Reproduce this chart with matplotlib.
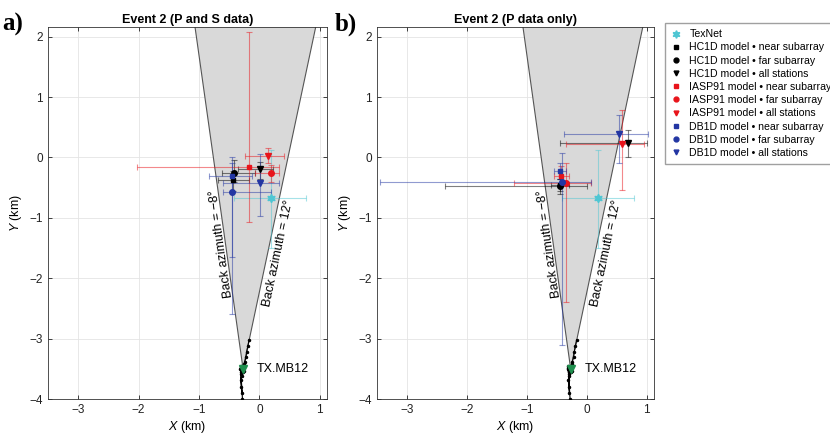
import numpy as np
import matplotlib.pyplot as plt
from matplotlib.lines import Line2D

plt.rcParams['font.family'] = ['Liberation Sans', 'DejaVu Sans']
plt.rcParams['mathtext.fontset'] = 'custom'
plt.rcParams['mathtext.it'] = 'Liberation Sans:italic'
plt.rcParams['mathtext.rm'] = 'Liberation Sans'

# order: TexNet, HC1D near/far/all, IASP91 near/far/all, DB1D near/far/all
labels = ['TexNet',
          'HC1D model \u2022 near subarray', 'HC1D model \u2022 far subarray', 'HC1D model \u2022 all stations',
          'IASP91 model \u2022 near subarray', 'IASP91 model \u2022 far subarray', 'IASP91 model \u2022 all stations',
          'DB1D model \u2022 near subarray', 'DB1D model \u2022 far subarray', 'DB1D model \u2022 all stations']

# event 2, P and S data
x_a = [0.19, -0.43, -0.42, 0.01, -0.17, 0.20, 0.14, -0.46, -0.46, 0.01]
y_a = [-0.67, -0.38, -0.25, -0.19, -0.16, -0.26, 0.02, -0.30, -0.57, -0.42]
xlo_a = [-0.42, -0.68, -0.62, -0.36, -2.03, -0.08, -0.24, -0.84, -0.61, -0.60]
xhi_a = [0.78, -0.17, -0.08, 0.22, 0.33, 0.32, 0.40, -0.12, 0.20, 0.33]
ylo_a = [-1.50, -0.55, -0.40, -0.35, -1.07, -0.40, -0.10, -1.65, -2.60, -0.97]
yhi_a = [0.13, -0.22, -0.05, -0.07, 2.08, -0.12, 0.16, 0.00, -0.10, 0.05]

# event 2, P data only
x_b = [0.19, -0.44, -0.44, 0.68, -0.43, -0.34, 0.58, -0.45, -0.42, 0.53]
y_b = [-0.67, -0.45, -0.47, 0.24, -0.31, -0.42, 0.22, -0.22, -0.41, 0.38]
xlo_b = [-0.42, -0.60, -2.37, -0.44, -0.55, -1.21, -0.35, -0.55, -3.45, -0.38]
xhi_b = [0.78, -0.30, 0.00, 1.00, -0.30, 0.07, 0.95, -0.35, 0.07, 1.02]
ylo_b = [-1.50, -0.55, -0.60, 0.00, -0.45, -2.40, -0.54, -0.35, -3.10, -0.10]
yhi_b = [0.13, -0.35, -0.35, 0.45, -0.15, -0.10, 0.79, -0.10, 0.07, 0.70]

# TX.MB12 array elements
sta_x = [-0.17, -0.19, -0.21, -0.22, -0.24, -0.25, -0.26, -0.27, -0.28, -0.29, -0.30,
         -0.31, -0.32, -0.30, -0.27, -0.25, -0.29, -0.31, -0.30, -0.29, -0.31, -0.28]
sta_y = [-3.02, -3.12, -3.22, -3.30, -3.38, -3.42, -3.45, -3.48, -3.50, -3.52, -3.55,
         -3.46, -3.50, -3.58, -3.56, -3.53, -3.62, -3.68, -3.80, -3.90, -3.48, -4.00]
station = (-0.27, -3.50)
back_az = [-8, 12]

colors = ['#4fc6d3', 'k', 'k', 'k', '#e8141b', '#e8141b', '#e8141b', '#2336a3', '#2336a3', '#2336a3']
markers = [(6, 1, 0), 's', 'o', 'v', 's', 'o', 'v', 's', 'o', 'v']
msizes = [6, 3.2, 4, 4, 3.2, 4, 4, 3.2, 4, 4]


def draw_panel(ax, x, y, xlo, xhi, ylo, yhi, title):
    # back-azimuth wedge from the station
    top = 2.6
    dy = top - station[1]
    xl = station[0] + dy * np.tan(np.radians(back_az[0]))
    xr = station[0] + dy * np.tan(np.radians(back_az[1]))
    ax.fill([station[0], xl, xr], [station[1], top, top], color='#d9d9d9',
            ec='#555555', lw=0.8, zorder=1)

    yl, yr = -1.42, -1.57
    ax.text(station[0] + (yl - station[1]) * np.tan(np.radians(back_az[0])) + 0.03, yl,
            'Back azimuth = \u22128\u00b0', rotation=90 - back_az[0], rotation_mode='anchor',
            ha='center', va='bottom', fontsize=9, zorder=3)
    ax.text(station[0] + (yr - station[1]) * np.tan(np.radians(back_az[1])) + 0.08, yr,
            'Back azimuth = 12\u00b0', rotation=90 - back_az[1], rotation_mode='anchor',
            ha='center', va='top', fontsize=9, zorder=3)

    for i in range(len(x)):
        xe = [[x[i] - xlo[i]], [xhi[i] - x[i]]]
        ye = [[y[i] - ylo[i]], [yhi[i] - y[i]]]
        ax.errorbar(x[i], y[i], xerr=xe, yerr=ye, fmt='none', ecolor=colors[i],
                    elinewidth=0.8, capsize=2.5, capthick=0.8, alpha=0.5, zorder=4)
    for i in range(len(x)):
        ax.plot(x[i], y[i], ls='none', marker=markers[i], ms=msizes[i], color=colors[i],
                mec=colors[i], zorder=6)

    ax.plot(sta_x, sta_y, color='k', lw=0.8, zorder=5)
    ax.plot(sta_x, sta_y, 'k.', ms=3, zorder=5)
    ax.plot(*station, marker='v', ms=6, color='#1f8f4e', zorder=6)
    ax.text(station[0] + 0.23, station[1], 'TX.MB12', va='center', fontsize=9, zorder=6)

    ax.set_xlim(-3.5, 1.12)
    ax.set_ylim(-4, 2.16)
    ax.set_xticks([-3, -2, -1, 0, 1])
    ax.set_yticks([-4, -3, -2, -1, 0, 1, 2])
    ax.grid(True, color='#e4e4e4', lw=0.6)
    ax.set_axisbelow(True)
    ax.tick_params(direction='in', top=True, right=True, length=3, width=0.6,
                   labelsize=8.5, colors='#222222')
    for s in ax.spines.values():
        s.set_linewidth(0.6)
        s.set_color('#333333')
    ax.set_xlabel(r'$\it{X}$ (km)', fontsize=9, labelpad=2)
    ax.set_ylabel(r'$\it{Y}$ (km)', fontsize=9, labelpad=4)
    ax.set_title(title, fontsize=9, fontweight='bold', pad=3)


fig = plt.figure(figsize=(8.3, 4.36), dpi=100)
ax_a = fig.add_axes([48 / 830, 1 - 399 / 436, 279 / 830, 372 / 436])
ax_b = fig.add_axes([377 / 830, 1 - 399 / 436, 277 / 830, 372 / 436])

draw_panel(ax_a, x_a, y_a, xlo_a, xhi_a, ylo_a, yhi_a, 'Event 2 (P and S data)')
draw_panel(ax_b, x_b, y_b, xlo_b, xhi_b, ylo_b, yhi_b, 'Event 2 (P data only)')

fig.text(0.003, 0.93, 'a)', fontsize=18, fontweight='bold', family='Liberation Serif')
fig.text(0.403, 0.93, 'b)', fontsize=18, fontweight='bold', family='Liberation Serif')

handles = [Line2D([], [], ls='none', marker=markers[i], ms=msizes[i] - 0.5, color=colors[i])
           for i in range(len(labels))]
fig.legend(handles, labels, loc='upper left', bbox_to_anchor=(665 / 830, 1 - 23 / 436),
           fontsize=7.6, frameon=True, fancybox=False, edgecolor='#888888',
           handlelength=0.8, handletextpad=0.9, labelspacing=0.3, borderpad=0.6,
           borderaxespad=0)

fig.savefig('out.png', dpi=100)
